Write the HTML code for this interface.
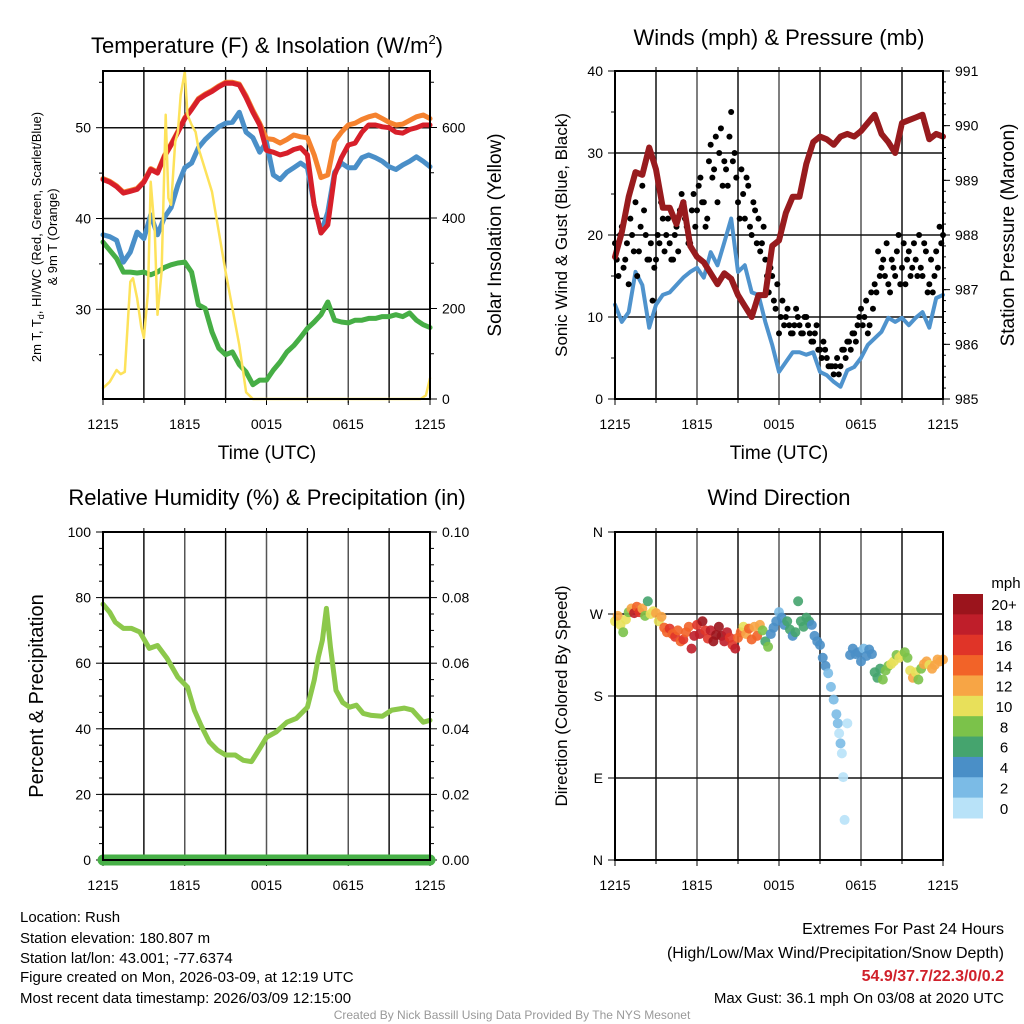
<!DOCTYPE html>
<html><head><meta charset="utf-8"><title>Mesonet Station Rush</title>
<style>
html,body{margin:0;padding:0;background:#fff;}
svg{display:block;font-family:"Liberation Sans",Arial,sans-serif;}
</style></head>
<body>
<svg id="chart" width="1024" height="1024" viewBox="0 0 1024 1024" xmlns="http://www.w3.org/2000/svg">
<rect x="0" y="0" width="1024" height="1024" fill="#fff"/>
<text x="267" y="53" font-size="22" text-anchor="middle">Temperature (F) &amp; Insolation (W/m<tspan font-size="13" dy="-9">2</tspan><tspan dy="9">)</tspan></text>
<text x="779" y="45" font-size="22" text-anchor="middle">Winds (mph) &amp; Pressure (mb)</text>
<text x="267" y="505" font-size="22" text-anchor="middle">Relative Humidity (%) &amp; Precipitation (in)</text>
<text x="779" y="505" font-size="22" text-anchor="middle">Wind Direction</text>
<text transform="translate(41,237) rotate(-90)" font-size="13" text-anchor="middle">2m T, T<tspan font-size="9" dy="3">d</tspan><tspan dy="-3">, HI/WC (Red, Green, Scarlet/Blue)</tspan></text>
<text transform="translate(57,237) rotate(-90)" font-size="13" text-anchor="middle">&amp; 9m T (Orange)</text>
<text transform="translate(501,235) rotate(-90)" font-size="19" text-anchor="middle">Solar Insolation (Yellow)</text>
<text x="267" y="459" font-size="19" text-anchor="middle">Time (UTC)</text>
<text transform="translate(567,235) rotate(-90)" font-size="17" text-anchor="middle">Sonic Wind &amp; Gust (Blue, Black)</text>
<text transform="translate(1014,235) rotate(-90)" font-size="19" text-anchor="middle">Station Pressure (Maroon)</text>
<text x="779" y="459" font-size="19" text-anchor="middle">Time (UTC)</text>
<text transform="translate(43,696) rotate(-90)" font-size="20" text-anchor="middle">Percent &amp; Precipitation</text>
<text transform="translate(567,696) rotate(-90)" font-size="17" text-anchor="middle">Direction (Colored By Speed)</text>
<g font-size="15">
<text x="20" y="922">Location: Rush</text>
<text x="20" y="943">Station elevation: 180.807 m</text>
<text x="20" y="963">Station lat/lon: 43.001; -77.6374</text>
<text x="20" y="982">Figure created on Mon, 2026-03-09, at 12:19 UTC</text>
<text x="20" y="1003">Most recent data timestamp: 2026/03/09 12:15:00</text>
</g>
<g font-size="16" text-anchor="end">
<text x="1004" y="934">Extremes For Past 24 Hours</text>
<text x="1004" y="958">(High/Low/Max Wind/Precipitation/Snow Depth)</text>
<text x="1004" y="981" fill="#d0212b" font-weight="bold">54.9/37.7/22.3/0/0.2</text>
<text x="1004" y="1003" font-size="15">Max Gust: 36.1 mph On 03/08 at 2020 UTC</text>
</g>
<text x="512" y="1019" font-size="12" fill="#999" text-anchor="middle">Created By Nick Bassill Using Data Provided By The NYS Mesonet</text>
<g id="layer"></g>
</svg>
<script>
const timeLabels = ["1215","1815","0015","0615","1215"];
const halfHours = [];
for (let i = 0; i <= 48; i++) halfHours.push(i * 0.5);
const airTemp = [44.3,44.0,43.5,42.8,43.0,43.2,44.0,45.4,45.0,46.8,48.1,49.5,51.0,52.0,53.1,53.6,54.0,54.5,54.9,54.9,54.7,53.3,51.7,50.3,47.5,47.3,47.0,47.2,47.6,47.8,47.0,41.5,38.4,39.3,44.8,46.7,48.1,48.3,49.5,50.3,50.3,50.1,50.0,49.5,49.4,49.8,50.0,50.3,50.3];
const temp9m = [44.4,44.1,43.6,42.9,43.1,43.3,44.1,45.5,45.1,46.9,48.2,49.6,51.1,52.1,53.2,53.7,54.1,54.6,55.0,55.0,54.8,53.5,51.9,50.5,48.8,48.7,48.3,48.7,49.2,49.0,48.9,47.0,44.5,44.8,48.5,49.5,50.3,50.5,50.9,51.2,51.4,51.0,50.6,50.3,50.4,50.8,51.2,51.4,51.0];
const windChill = [38.2,38.0,37.6,35.2,36.3,38.5,37.8,40.4,38.2,40.1,41.2,43.7,45.6,46.1,47.8,48.7,49.4,50.1,50.5,50.6,51.7,49.5,48.9,47.3,48.4,44.8,44.3,45.1,45.6,46.1,45.6,41.5,38.4,40.7,45.1,46.1,45.6,45.6,46.7,47.0,46.7,46.3,45.7,45.4,45.9,46.3,46.8,46.3,45.7];
const dewPoint = [37.4,36.5,35.6,34.1,34.1,34.0,34.1,33.8,34.1,34.6,34.9,35.1,35.2,34.1,30.5,30.1,27.5,25.7,25.0,25.3,23.9,23.1,21.7,22.2,22.2,23.3,24.2,25.3,26.0,26.9,27.9,28.6,29.4,30.8,28.8,28.6,28.5,28.8,28.8,29.0,29.0,29.2,29.2,29.4,29.2,29.6,28.8,28.3,28.0];
const solarTimes = [0,0.5,1,1.3,1.6,2,2.2,2.5,2.8,3,3.3,3.5,3.8,4,4.3,4.6,4.8,5,5.3,5.5,5.7,6,6.2,6.5,6.8,7,8,9,10,10.5,11,23.3,23.7,24];
const solarValues = [24,38,64,55,60,259,267,223,160,135,236,480,369,186,281,628,444,429,568,590,672,723,628,606,590,555,458,281,119,15,0,0,8,46];
const tempTicks = [30,40,50];
const solarTicks = [0,200,400,600];
const pressure = [987.6,988.05,988.7,989.15,989.1,989.6,989.2,988.5,988.5,988.2,988.6,987.8,987.6,987.5,987.3,987.1,987.3,987.2,986.9,986.7,986.5,986.9,986.9,987.8,987.9,988.4,988.7,988.7,989.3,989.7,989.8,989.75,989.65,989.8,989.85,989.8,989.9,990.05,990.2,989.85,989.7,989.5,990.05,990.1,990.15,990.2,989.75,989.85,989.8];
const sonicWind = [11.5,9.4,10.6,15.5,13.9,8.7,11.5,12.7,13.0,13.9,14.8,15.5,16.0,14.8,17.9,16.3,19.1,22.0,15.5,16.3,13.0,12.7,9.4,6.6,3.3,4.5,5.7,5.7,5.4,5.7,3.3,2.9,2.1,1.5,3.5,3.9,5.0,6.6,7.4,8.2,9.9,9.4,9.9,9.0,9.9,10.6,8.7,12.3,12.7];
const gusts = [19,15,21,17,14,20,24,18,26,20,17,12,17,19,22,20,19,17,21,23,24,21,19,25,23,27,24,22,31,28,24,33,29,26,35,30,24,28,22,26,20,23,22,19,17,13,15,11,8,12,10,9,8,11,9,8,10,8,7,9,6,7,5,4,3,5,4,6,7,6,8,9,11,10,8,13,14,18,16,15,14,17,15,20,16,14,18,16,17,20,15,18,14,13,18,21,20];
const gusts2 = [17,20,16,19,22,18,15,21,23,17,19,16,20,24,18,22,17,20,18,25,22,19,23,21,26,24,21,29,27,32,30,26,28,32,29,27,22,25,27,21,24,19,18,21,15,16,12,14,10,9,11,8,9,10,8,10,9,7,8,6,5,6,4,4,4,3,6,5,7,8,7,10,9,12,9,11,13,15,17,19,13,16,18,14,19,17,15,19,15,16,19,13,17,15,16,19];
const windTicks = [0,10,20,30,40];
const pressureTicks = [985,986,987,988,989,990,991];
const rhTimes = [0,0.5,0.9,1.5,2.1,2.7,3.4,4,4.7,5.5,6.2,6.7,7.2,7.8,8.4,9,9.7,10.3,10.9,11.5,12,12.7,13.5,14.2,15,15.5,15.8,16.1,16.4,16.7,17.1,17.6,18.1,18.6,19.1,19.7,20.5,21.2,22.1,22.7,23.5,24];
const rhValues = [78,75.5,72.5,70.6,70.6,69.5,64.5,65.4,61.5,55.7,52.7,45.7,41,36,33.5,32,32,30.4,30,34,37.4,39,42,43.2,46.6,54.8,61.8,67,76.7,64.8,51.7,48,46.6,47.2,44.7,44.1,43.8,45.7,46.3,45.7,42,42.6];
const precipTimes = [0,24];
const precipValues = [0,0];
const rhTicks = [0,20,40,60,80,100];
const precipTicks = ["0.00","0.02","0.04","0.06","0.08","0.10"];
const dirTimes = [0,0.2,0.4,0.6,0.8,1.0,1.2,1.4,1.6,1.8,2.0,2.2,2.4,2.6,2.8,3.0,3.2,3.4,3.6,3.8,4.0,4.2,4.4,4.6,4.8,5.0,5.2,5.4,5.6,5.8,6.0,6.2,6.4,6.6,6.8,7.0,7.2,7.4,7.6,7.8,8.0,8.2,8.4,8.6,8.8,9.0,9.2,9.4,9.6,9.8,10.0,10.2,10.4,10.6,10.8,11.0,11.2,11.4,11.6,11.8,12.0,12.2,12.4,12.6,12.8,13.0,13.2,13.4,13.6,13.8,14.0,14.2,14.4,14.6,14.8,15.0,15.2,15.4,15.6,15.8,16.0,16.2,16.3,16.4,16.5,16.6,16.7,16.8,17.0,17.2,17.4,17.6,17.8,18.0,18.2,18.4,18.6,18.8,19.0,19.2,19.4,19.6,19.8,20.0,20.2,20.4,20.6,20.8,21.0,21.2,21.4,21.6,21.8,22.0,22.2,22.4,22.6,22.8,23.0,23.2,23.4,23.6,23.8,24.0];
const dirValues = [262,268,258,250,264,272,276,271,278,272,276,268,284,270,273,271,262,267,255,250,254,248,245,252,240,242,250,256,232,246,258,248,262,252,243,252,240,247,256,246,240,250,244,236,232,244,250,256,248,254,242,256,246,258,252,240,234,248,255,262,272,266,258,262,253,246,250,284,262,256,266,262,258,246,240,236,222,213,205,190,176,160,150,139,128,117,91,44,150,225,232,226,228,218,232,224,231,226,206,200,210,198,208,213,215,218,225,222,225,228,222,208,200,206,198,210,215,218,214,210,214,220,218,220];
const dirSpeeds = [11,12,10,8,10,9,12,18,14,16,13,8,7,11,10,12,10,13,14,15,17,14,16,15,15,17,14,14,18,19,17,18,21,17,16,19,20,21,22,20,19,18,17,16,18,14,15,10,13,14,14,12,14,12,8,7,8,5,4,4,3,5,5,6,6,4,6,7,7,6,6,6,5,5,5,4,4,4,3,3,3,2,2,1,2,1,1,1,1,4,4,4,5,4,3,4,4,5,6,6,7,8,8,9,10,10,9,11,10,8,9,11,12,10,8,9,12,13,11,12,13,12,13,13];
const dirLabels = ["N","W","S","E","N"];
const speedLabels = ["20+","18","16","14","12","10","8","6","4","2","0"];
const speedColors = ["#9b141c","#bf1e2a","#e03428","#f26328","#f7a545","#e8e05a","#7bc24a","#45a46e","#4a8fc7","#7bbbe6","#b8e2f8"];

const NS = "http://www.w3.org/2000/svg";
const layer = document.getElementById("layer");
function mk(tag, attrs, parent){
  const e = document.createElementNS(NS, tag);
  for (const k in attrs) e.setAttribute(k, attrs[k]);
  (parent || layer).appendChild(e);
  return e;
}
function scale(d0,d1,r0,r1){ return v => r0 + (v-d0)/(d1-d0)*(r1-r0); }

const P = {
  temp:{x0:103,x1:430,y0:71,y1:399},
  wind:{x0:615,x1:943,y0:71,y1:399},
  rh:{x0:103,x1:430,y0:532,y1:860},
  dir:{x0:615,x1:943,y0:532,y1:860}
};
function drawGrid(p, name){
  const xs = scale(0,24,p.x0,p.x1);
  for (let h = 3; h < 24; h += 3){
    const g = mk("line",{x1:xs(h),x2:xs(h),y1:p.y0,y2:p.y1,stroke:(h%6===0?"#555":"#111"),"stroke-width":1.5});
    
    
  }
  for (let i = 0; i < 5; i++){
    const h = i*6;
    const tk = mk("line",{x1:xs(h),x2:xs(h),y1:p.y1,y2:p.y1+6,stroke:"#000","stroke-width":1});
    
    
    const lb = mk("text",{x:xs(h),y:p.y1+30,"font-size":14,"text-anchor":"middle"});
    lb.textContent = timeLabels[i];
    
    
  }
  for (let h = 3; h < 24; h += 3){
    const mt = mk("line",{x1:xs(h),x2:xs(h),y1:p.y1,y2:p.y1+4,stroke:"#000","stroke-width":1});
    
    
    const tt = mk("line",{x1:xs(h),x2:xs(h),y1:p.y0,y2:p.y0-4,stroke:"#000","stroke-width":1});
    
    
  }
  return xs;
}
function hLine(p, y, name, color){
  const l = mk("line",{x1:p.x0,x2:p.x1,y1:y,y2:y,stroke:color||"#111","stroke-width":1.5});
  
  
}
function leftTick(p, y, label, name, len){
  const t = mk("line",{x1:p.x0-(len||7),x2:p.x0,y1:y,y2:y,stroke:"#000","stroke-width":1});
  
  
  if (label !== null){
    const tx = mk("text",{x:p.x0-12,y:y+5,"font-size":14,"text-anchor":"end"});
    tx.textContent = label;
    
    
  }
}
function rightTick(p, y, label, name, len){
  const t = mk("line",{x1:p.x1,x2:p.x1+(len||7),y1:y,y2:y,stroke:"#000","stroke-width":1});
  
  
  if (label !== null){
    const tx = mk("text",{x:p.x1+12,y:y+5,"font-size":14,"text-anchor":"start"});
    tx.textContent = label;
    
    
  }
}
function frame(p, name){
  const f = mk("rect",{x:p.x0,y:p.y0,width:p.x1-p.x0,height:p.y1-p.y0,fill:"none",stroke:"#000","stroke-width":2});
  
  
}
function pathFrom(ts, vs, xs, ys){
  let d = "";
  for (let i = 0; i < ts.length; i++) d += (i?"L":"M") + xs(ts[i]).toFixed(1) + " " + ys(vs[i]).toFixed(1);
  return d;
}
function series(ts, vs, xs, ys, color, w, name){
  const s = mk("path",{d:pathFrom(ts,vs,xs,ys),fill:"none",stroke:color,"stroke-width":w,"stroke-linejoin":"round","stroke-linecap":"round"});
  
  
  return s;
}

(function(){
  const p = P.temp;
  const xs = drawGrid(p, "temperature");
  const yT = scale(30,50,309.3,127.7);
  const yS = scale(0,600,399,127.5);
  tempTicks.forEach(v => hLine(p, yT(v), "temperature-gridline-" + v));
  tempTicks.forEach(v => leftTick(p, yT(v), String(v), "temperature-y"));
  [25,35,45,55].forEach(v => leftTick(p, yT(v), null, "temperature-y-minor", 4));
  solarTicks.forEach(v => rightTick(p, yS(v), String(v), "insolation-y"));
  [100,300,500,700].forEach(v => rightTick(p, yS(v), null, "insolation-y-minor", 4));
  series(halfHours, dewPoint, xs, yT, "#46ae45", 5, "dewpoint-line");
  series(halfHours, temp9m, xs, yT, "#f5822f", 5, "temperature-9m-line");
  series(halfHours, windChill, xs, yT, "#4a8fc8", 5, "windchill-line");
  series(halfHours, airTemp, xs, yT, "#d71f2a", 5, "temperature-2m-line");
  series(solarTimes, solarValues, xs, yS, "#fde25a", 2.5, "solar-insolation-line");
  frame(p, "temperature");
})();

(function(){
  const p = P.wind;
  const xs = drawGrid(p, "winds");
  const yW = scale(0,40,399,71);
  const yP = scale(985,991,399,71);
  [10,20,30].forEach(v => hLine(p, yW(v), "wind-gridline-" + v));
  windTicks.forEach(v => leftTick(p, yW(v), String(v), "wind-y"));
  [5,15,25,35].forEach(v => leftTick(p, yW(v), null, "wind-y-minor", 4));
  pressureTicks.forEach(v => rightTick(p, yP(v), String(v), "pressure-y"));
  for (let v = 985; v < 991; v += 0.2){ rightTick(p, yP(v), null, "pressure-y-minor", 3); }
  series(halfHours, sonicWind, xs, yW, "#4f93cd", 4, "sonic-wind-line");
  gusts.forEach((g, i) => {
    const c = mk("circle",{cx:xs(i*0.25),cy:yW(g),r:3,fill:"#000"});
    
    
  });
  gusts2.forEach((g, i) => {
    const c = mk("circle",{cx:xs(i*0.25+0.125),cy:yW(g),r:3,fill:"#000"});
    
    
  });
  series(halfHours, pressure, xs, yP, "#981b1e", 6, "pressure-line");
  frame(p, "winds");
})();

(function(){
  const p = P.rh;
  const xs = drawGrid(p, "humidity");
  const yR = scale(0,100,860,532);
  const yPr = scale(0,0.10,860,532);
  [20,40,60,80].forEach(v => hLine(p, yR(v), "humidity-gridline-" + v));
  rhTicks.forEach(v => leftTick(p, yR(v), String(v), "humidity-y"));
  precipTicks.forEach((lbl, i) => rightTick(p, yR(i*20), lbl, "precipitation-y"));
  for (let v = 5; v < 100; v += 5){ if (v % 20) { leftTick(p, yR(v), null, "humidity-y-minor", 4); rightTick(p, yR(v), null, "precipitation-y-minor", 4);} }
  series(rhTimes, rhValues, xs, yR, "#8cc84b", 5, "relative-humidity-line");
  series(precipTimes, precipValues, xs, yPr, "#47b047", 11, "precipitation-line");
  frame(p, "humidity");
})();

(function(){
  const p = P.dir;
  const xs = drawGrid(p, "direction");
  const yD = scale(0,360,860,532);
  [90,180,270].forEach(v => hLine(p, yD(v), "direction-gridline-" + v));
  dirLabels.forEach((lb, i) => leftTick(p, yD(360 - i*90), lb, "direction-y"));
  dirTimes.forEach((t, i) => {
    const sp = dirSpeeds[i];
    const bin = Math.min(10, Math.floor(sp/2));
    const c = mk("circle",{cx:xs(t),cy:yD(dirValues[i]),r:5,fill:speedColors[10-bin],"fill-opacity":0.9});
    
    
  });
  frame(p, "direction");
  const mph = mk("text",{x:1006,y:588,"font-size":15,"text-anchor":"middle"});
  mph.textContent = "mph";
  
  
  const bh = (818-594)/speedLabels.length;
  speedLabels.forEach((lb, i) => {
    const r = mk("rect",{x:953,y:594+i*bh,width:30,height:bh+0.5,fill:speedColors[i]});
    
    
    const t = mk("text",{x:1004,y:594+i*bh+bh/2+6,"font-size":15,"text-anchor":"middle"});
    t.textContent = lb;
    
    
  });
})();
</script>
</body></html>
